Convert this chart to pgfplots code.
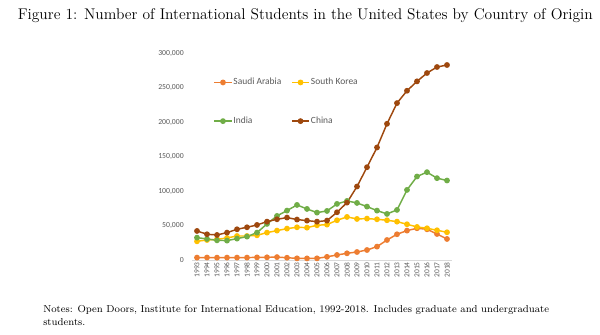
\documentclass[border=0pt]{standalone}
\usepackage{pgfplots}
\pgfplotsset{compat=1.18}
\usepackage{fontspec}
\newfontfamily\chartfont{Carlito}
\definecolor{saudi}{HTML}{ED7D31}
\definecolor{korea}{HTML}{FFC000}
\definecolor{india}{HTML}{70AD47}
\definecolor{china}{HTML}{9E480E}
\definecolor{ticktext}{HTML}{595959}
\begin{document}
\begin{tikzpicture}
\path[use as bounding box] (0,0) rectangle (450pt,-251.25pt);
\node[font=\fontsize{11.6}{13}\selectfont, anchor=center] at (229pt,-11.5pt) {Figure 1: Number of International Students in the United States by Country of Origin};
\node[font=\fontsize{7.57}{9.75}\selectfont, anchor=north west, align=left, inner sep=0pt] at (32.25pt,-229pt) {Notes: Open Doors, Institute for International Education, 1992-2018. Includes graduate and undergraduate\\students.};
\begin{axis}[
  at={(144pt,-195pt)}, anchor=south west,
  scale only axis, width=195pt, height=155.25pt,
  xmin=-0.5, xmax=25.5, ymin=0, ymax=300000,
  axis y line=none, axis x line*=bottom,
  x axis line style={draw=black!15, line width=0.6pt, -},
  xtick={0,...,25},
  xticklabels={1993,1994,1995,1996,1997,1998,1999,2000,2001,2002,2003,2004,2005,2006,2007,2008,2009,2010,2011,2012,2013,2014,2015,2016,2017,2018},
  x tick label style={rotate=90, anchor=east, font=\chartfont\fontsize{5.6}{6}\selectfont, text=ticktext, inner sep=1.5pt},
  major tick length=0pt,
  clip=false,
  legend columns=2,
  legend cell align=left,
  legend style={draw=none, fill=none, at={(0.082,0.885)}, anchor=north west,
    font=\chartfont\fontsize{7.1}{8}\selectfont, text=ticktext,
    row sep=21pt, inner sep=0pt, nodes={inner sep=0.8pt},
    /tikz/every even column/.append style={column sep=6.5pt}},
  legend image code/.code={\draw[#1, mark repeat=2, mark phase=2] plot coordinates {(0pt,0pt) (6.5pt,0pt) (13pt,0pt)};},
  every axis plot/.append style={line width=1.1pt, mark=*, mark size=1.6pt},
]
\addplot[color=saudi, mark options={fill=saudi}] coordinates {
(0,3500)(1,3600)(2,3400)(3,3500)(4,3500)(5,3500)(6,3800)(7,3900)(8,4200)(9,3300)(10,2400)(11,2300)(12,2400)(13,4600)(14,7300)(15,9700)(16,11600)(17,14500)(18,19400)(19,29000)(20,37300)(21,42600)(22,46000)(23,44500)(24,37700)(25,30500)};
\addlegendentry{Saudi Arabia}
\addplot[color=korea, mark options={fill=korea}] coordinates {
(0,27100)(1,29000)(2,30000)(3,31900)(4,34800)(5,34800)(6,35800)(7,39700)(8,42600)(9,45500)(10,47400)(11,46900)(12,50300)(13,51300)(14,57600)(15,62400)(16,59500)(17,60000)(18,59000)(19,57600)(20,55600)(21,51800)(22,47900)(23,46000)(24,43100)(25,40200)};
\addlegendentry{South Korea}
\addplot[color=india, mark options={fill=india}] coordinates {
(0,32400)(1,30500)(2,28500)(3,28100)(4,31000)(5,33900)(6,39700)(7,52300)(8,63900)(9,71600)(10,79800)(11,74000)(12,68700)(13,71100)(14,81300)(15,85600)(16,82700)(17,77400)(18,71600)(19,66800)(20,72600)(21,101600)(22,121000)(23,127300)(24,118600)(25,115200)};
\addlegendentry{India}
\addplot[color=china, mark options={fill=china}] coordinates {
(0,42100)(1,37300)(2,36300)(3,39700)(4,44500)(5,47400)(6,50800)(7,55600)(8,59000)(9,61500)(10,58600)(11,57100)(12,55600)(13,57100)(14,69200)(15,83200)(16,106500)(17,134500)(18,163100)(19,197400)(20,227400)(21,245300)(22,258900)(23,271000)(24,279700)(25,282600)};
\addlegendentry{China}
\end{axis}
\begin{axis}[
  at={(144pt,-195pt)}, anchor=south west,
  scale only axis, width=195pt, height=155.25pt,
  xmin=-0.5, xmax=25.5, ymin=0, ymax=300000,
  axis x line=none, axis y line*=left,
  y axis line style={draw=none},
  major tick length=0pt,
  ytick={0,50000,100000,150000,200000,250000,300000},
  scaled y ticks=false,
  /pgf/number format/fixed,
  /pgf/number format/1000 sep={,},
  /pgf/number format/assume math mode=true,
  y tick label style={font=\chartfont\fontsize{5.8}{6}\selectfont, text=ticktext, inner sep=1pt, xshift=-5pt},
]
\end{axis}
\end{tikzpicture}
\end{document}
